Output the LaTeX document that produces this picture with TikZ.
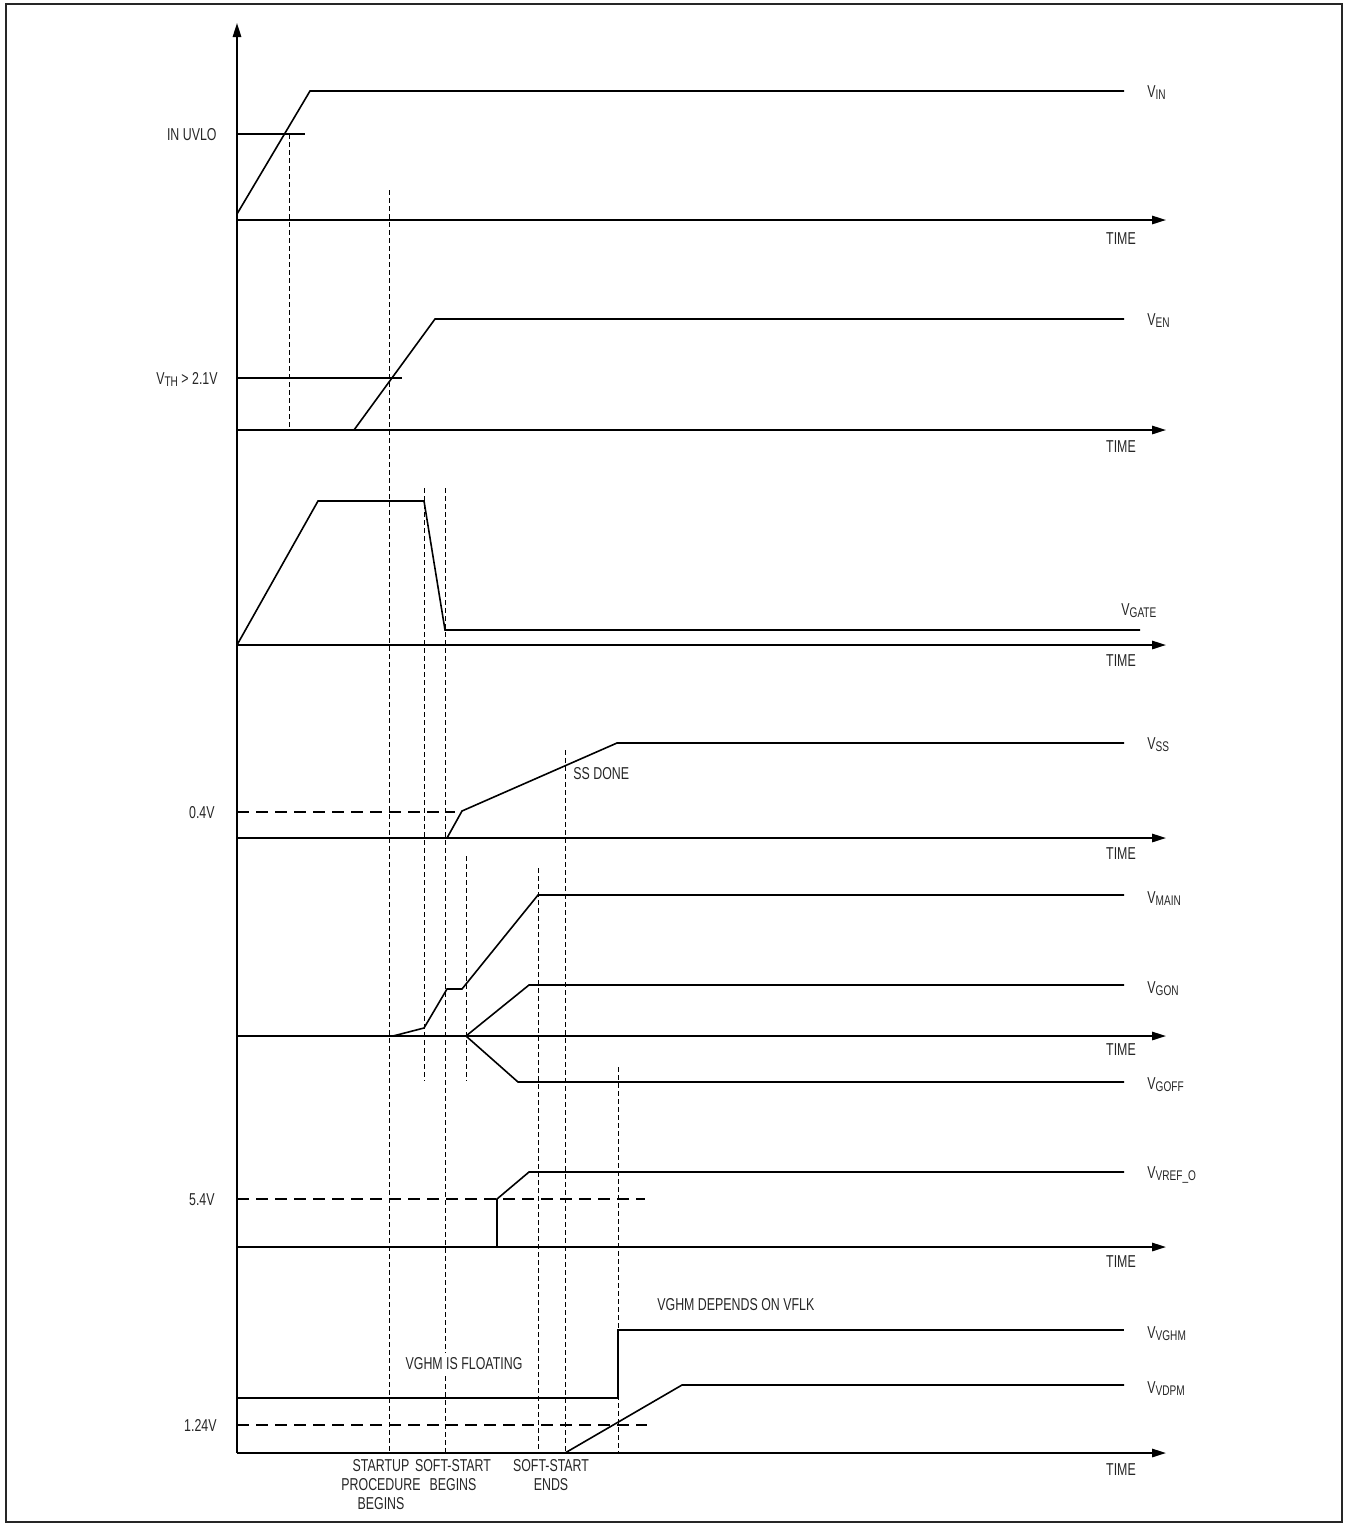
\documentclass[tikz,border=0pt]{standalone}
\usepackage{fontspec}
\setmainfont{Liberation Sans}[FakeStretch=0.72]
\usetikzlibrary{arrows.meta}
\newcommand\vsig[1]{V\raisebox{-1.2pt}{\fontsize{7}{8}\selectfont #1}}
\begin{document}
\begin{tikzpicture}[x=0.5pt,y=-0.5pt,
  frame/.style={line width=1pt, draw=black!85},
  axis/.style={line width=0.9pt,-{Triangle[length=7pt,width=4.2pt]}},
  sig/.style={line width=0.8pt, line join=miter},
  vdash/.style={line width=0.5pt, dash pattern=on 2.5pt off 1.5pt},
  hdash/.style={line width=0.6pt, dash pattern=on 6pt off 3.5pt},
  lbl/.style={font=\fontsize{8.6}{10}\selectfont, inner sep=0pt, text=black!85},
  rlbl/.style={lbl, anchor=base west},
  llbl/.style={lbl, anchor=base east},
  tlbl/.style={lbl, anchor=base},
  mlbl/.style={lbl, align=center, anchor=north, font=\fontsize{8.6}{9.6}\selectfont}]
\useasboundingbox (0,0) rectangle (1345,1527);
\draw[frame] (6,4) rectangle (1342,1522);

% vertical axis
\draw[axis] (237,1453) -- (237,23);

% time axes
\foreach \yy in {220,430,645,838,1036,1247,1453}{
  \draw[axis] (237,\yy) -- (1166,\yy);
}
\foreach \yy/\nm in {238/la,446/lb,660/lc,853/ld,1049/le,1261/lf,1469/lg}{
  \node[tlbl] (\nm) at (1121,\yy+6) {TIME};
}

% dashed verticals
\draw[vdash] (289,134) -- (289,430);
\draw[vdash] (389,190) -- (389,1453);
\draw[vdash] (424,488) -- (424,1081);
\draw[vdash] (445,488) -- (445,1453);
\draw[vdash] (466,856) -- (466,1081);
\draw[vdash] (538,868) -- (538,1453);
\draw[vdash] (565,750) -- (565,1453);
\draw[vdash] (618,1067) -- (618,1453);

% VIN
\draw[sig] (237,214) -- (310,91) -- (1124,91);
\node[rlbl] (vin) at (1147,97) {\vsig{IN}};
\draw[sig] (237,134) -- (305,134);
\node[llbl] (uvlo) at (217,140) {IN UVLO};

% VEN
\draw[sig] (354,430) -- (435,319) -- (1124,319);
\node[rlbl] (ven) at (1147,325) {\vsig{EN}};
\draw[sig] (237,378) -- (402,378);
\node[llbl] (vth) at (218,384) {\vsig{TH} > 2.1V};

% VGATE
\draw[sig] (237,645) -- (318,501) -- (424,501) -- (445,630) -- (1140,630);
\node[rlbl] (vgate) at (1121,615) {\vsig{GATE}};

% VSS
\draw[hdash] (237,812) -- (455,812);
\node[llbl] (v04) at (215,818) {0.4V};
\draw[sig] (447,838) -- (462,811) -- (617,743) -- (1124,743);
\node[rlbl] (vss) at (1147,749) {\vsig{SS}};
\node[lbl, anchor=base west] (ssdone) at (573,779) {SS DONE};

% VMAIN, VGON, VGOFF
\draw[sig] (237,1036) -- (393,1036) -- (424,1028) -- (447,989) -- (462,989) -- (538,895) -- (1124,895);
\node[rlbl] (vmain) at (1147,903) {\vsig{MAIN}};
\draw[sig] (466,1036) -- (529,985) -- (1124,985);
\node[rlbl] (vgon) at (1147,993) {\vsig{GON}};
\draw[sig] (466,1036) -- (518,1082) -- (1124,1082);
\node[rlbl] (vgoff) at (1147,1089) {\vsig{GOFF}};

% VVREF_O
\draw[hdash] (237,1199) -- (645,1199);
\node[llbl] (v54) at (215,1205) {5.4V};
\draw[sig] (497,1247) -- (497,1199) -- (529,1172) -- (1124,1172);
\node[rlbl] (vref) at (1147,1178) {\vsig{VREF\_O}};

% VVGHM, VVDPM
\draw[sig] (237,1398) -- (618,1398) -- (618,1330) -- (1124,1330);
\node[rlbl] (vghm) at (1147,1338) {\vsig{VGHM}};
\draw[hdash] (237,1425) -- (647,1425);
\node[llbl] (v124) at (217,1431) {1.24V};
\draw[sig] (565,1453) -- (682,1385) -- (1124,1385);
\node[rlbl] (vdpm) at (1147,1393) {\vsig{VDPM}};
\node[lbl, anchor=base, fill=white, inner sep=2pt] (float) at (464,1369) {VGHM IS FLOATING};
\node[lbl, anchor=base west] (depends) at (657,1310) {VGHM DEPENDS ON VFLK};

% bottom labels
\node[mlbl] (startup) at (381,1459) {STARTUP\\PROCEDURE\\BEGINS};
\node[mlbl] (ssbeg) at (453,1459) {SOFT-START\\BEGINS};
\node[mlbl] (ssend) at (551,1459) {SOFT-START\\ENDS};
\end{tikzpicture}
\end{document}
